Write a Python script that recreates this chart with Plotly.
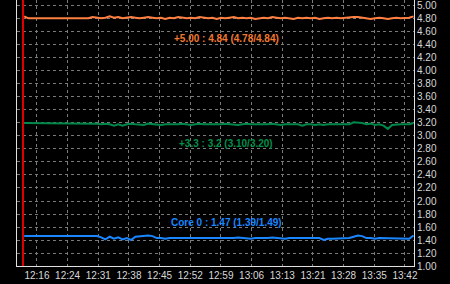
import plotly.graph_objects as go
import pandas as pd

# ---- data ----
sample_start = "2024-01-01 12:13:30"
sample_step = "1min"
event_time = "2024-01-01 12:13:14"

v5_label = "+5.00 : 4.84 (4.78/4.84)"
v33_label = "+3.3 : 3.2 (3.10/3.20)"
core_label = "Core 0 : 1.47 (1.39/1.49)"

v5 = [4.84,
      4.81, 4.81, 4.81, 4.81, 4.81, 4.81, 4.81, 4.82, 4.81, 4.81, 4.81, 4.81, 4.81,
      4.82, 4.81, 4.83, 4.82, 4.81, 4.82, 4.84, 4.82, 4.83, 4.81, 4.82, 4.83, 4.82, 4.81, 4.82, 4.83, 4.82,
      4.81, 4.82, 4.80, 4.82, 4.81, 4.83, 4.82, 4.81, 4.82, 4.81, 4.83, 4.82, 4.81, 4.82, 4.80, 4.82, 4.81, 4.82, 4.83, 4.81,
      4.82, 4.81, 4.82, 4.80, 4.81, 4.82, 4.81, 4.83, 4.82, 4.81, 4.82, 4.81, 4.80, 4.82, 4.81, 4.82, 4.81, 4.82, 4.80, 4.81,
      4.82, 4.81, 4.82, 4.81, 4.82, 4.83, 4.83, 4.83, 4.82, 4.81, 4.80, 4.81, 4.82, 4.81, 4.80, 4.81, 4.82, 4.81, 4.81, 4.82, 4.84]

v33 = [3.20, 3.20, 3.20, 3.20, 3.20, 3.20, 3.20, 3.20, 3.20, 3.20, 3.20, 3.20, 3.20, 3.20, 3.20, 3.20, 3.20,
       3.19, 3.18, 3.19, 3.18, 3.16, 3.18, 3.16, 3.18, 3.19, 3.18, 3.18, 3.17, 3.19, 3.18,
       3.18, 3.17, 3.18, 3.18, 3.17, 3.18, 3.19, 3.18, 3.17, 3.18, 3.19, 3.18, 3.18, 3.17, 3.18, 3.18, 3.19, 3.18, 3.18, 3.17,
       3.18, 3.19, 3.18, 3.18, 3.17, 3.18, 3.18, 3.19, 3.18, 3.17, 3.18, 3.18, 3.17, 3.18, 3.16, 3.18, 3.18, 3.17, 3.18, 3.17,
       3.18, 3.18, 3.17, 3.18, 3.18, 3.18, 3.21, 3.21, 3.20, 3.18, 3.19, 3.17, 3.18, 3.16, 3.11, 3.17, 3.18, 3.18, 3.18, 3.18, 3.20]

core0 = [1.46, 1.46, 1.46, 1.46, 1.46, 1.46, 1.45, 1.46, 1.46, 1.46, 1.46, 1.46, 1.46, 1.46, 1.46, 1.46, 1.46, 1.46,
         1.44, 1.41, 1.45, 1.42, 1.44, 1.41, 1.43, 1.40,
         1.45, 1.46, 1.47, 1.47, 1.46,
         1.43, 1.43, 1.42, 1.43, 1.43, 1.42, 1.43, 1.43, 1.43, 1.42, 1.43, 1.43, 1.42, 1.43, 1.43, 1.43, 1.42, 1.43, 1.43, 1.44,
         1.43, 1.43, 1.42, 1.43, 1.43, 1.42, 1.43, 1.44, 1.43, 1.43, 1.42, 1.43, 1.43, 1.42, 1.42, 1.42, 1.43, 1.42, 1.43, 1.40,
         1.42, 1.42, 1.42, 1.43, 1.43, 1.43, 1.45, 1.47, 1.46, 1.43, 1.43, 1.42, 1.43, 1.43, 1.42, 1.42, 1.42, 1.42, 1.42, 1.42, 1.47]

tick_times = ["12:16:30", "12:23:40", "12:30:50", "12:38:00", "12:45:10", "12:52:20", "12:59:30",
              "13:06:40", "13:13:50", "13:21:00", "13:28:10", "13:35:20", "13:42:30"]
tick_labels = ["12:16", "12:24", "12:31", "12:38", "12:45", "12:52", "12:59",
               "13:06", "13:13", "13:21", "13:28", "13:35", "13:42"]
x_range = ["2024-01-01 12:11:50", "2024-01-01 13:44:37"]
y_range = [1.0, 5.092]
y_ticks = [1.00, 1.20, 1.40, 1.60, 1.80, 2.00, 2.20, 2.40, 2.60, 2.80, 3.00,
           3.20, 3.40, 3.60, 3.80, 4.00, 4.20, 4.40, 4.60, 4.80, 5.00]

# ---- figure ----
t = pd.date_range(sample_start, periods=len(v5), freq=sample_step)
tick_vals = [pd.Timestamp("2024-01-01 " + s) for s in tick_times]

ORANGE = "#ff8040"
GREEN = "#00884a"
BLUE = "#1a86ff"

fig = go.Figure()
for vals, col in [(v5, ORANGE), (v33, GREEN), (core0, BLUE)]:
    fig.add_trace(go.Scatter(x=t, y=vals, mode="lines",
                             line=dict(color=col, width=2), hoverinfo="skip"))

fig.add_shape(type="line", xref="x", yref="paper",
              x0=event_time, x1=event_time, y0=0, y1=1,
              line=dict(color="#e00000", width=2))

lab_font = dict(family="Liberation Sans, Arial", size=10)
for txt, yp, col in [(v5_label, 0.857, "#f07830"),
                     (v33_label, 0.462, "#00904a"),
                     (core_label, 0.165, "#1a86ff")]:
    fig.add_annotation(text="<b>" + txt + "</b>", xref="paper", yref="paper",
                       x=0.527, y=yp, xanchor="center", yanchor="middle",
                       showarrow=False, font=dict(color=col, **lab_font))

tick_font = dict(family="Liberation Sans, Arial", size=10, color="#d8d8d8")
fig.update_layout(
    width=450, height=284,
    margin=dict(l=17, r=36, t=0, b=18),
    paper_bgcolor="black", plot_bgcolor="black",
    showlegend=False,
    xaxis=dict(range=x_range, tickvals=tick_vals, ticktext=tick_labels,
               showgrid=True, gridcolor="#7a7a7a", griddash="dot", gridwidth=1,
               showline=True, linecolor="#e0e0e0", linewidth=1,
               zeroline=False, ticks="", tickfont=tick_font),
    yaxis=dict(range=y_range, side="right", tickvals=y_ticks, tickformat=".2f",
               showgrid=True, gridcolor="#7a7a7a", griddash="dot", gridwidth=1,
               showline=True, linecolor="#e0e0e0", linewidth=1, mirror=True,
               zeroline=False, ticks="", tickfont=tick_font),
)

fig.write_html("out.html")
